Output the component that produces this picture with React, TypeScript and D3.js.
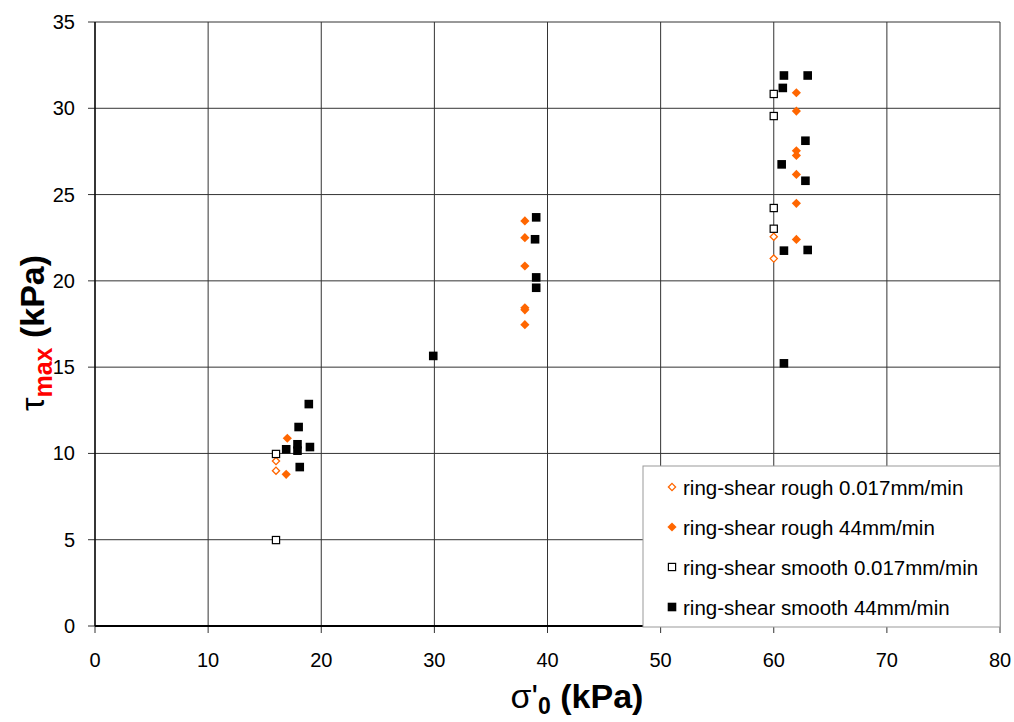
import React from "react";
import * as d3 from "d3";

const xTicks = [0, 10, 20, 30, 40, 50, 60, 70, 80];
const yTicks = [0, 5, 10, 15, 20, 25, 30, 35];

const roughSlowX = [16, 16, 60, 60];
const roughSlowY = [9.56, 9.0, 22.56, 21.29];

const roughFastX = [17, 16.9, 38, 38, 38, 38, 38, 38, 62, 62, 62, 62, 62, 62, 62];
const roughFastY = [10.88, 8.79, 23.47, 22.5, 20.86, 18.44, 18.32, 17.46, 30.9, 29.84, 27.54, 27.27, 26.17, 24.49, 22.4];

const smoothSlowX = [16, 16, 60, 60, 60, 60];
const smoothSlowY = [9.97, 4.98, 30.83, 29.55, 24.22, 23.02];

const smoothFastX = [18.9, 18, 17.9, 16.9, 17.9, 19, 18.1, 29.9, 39, 38.9, 39, 39, 60.9, 63, 60.8, 62.8, 60.7, 62.8, 60.9, 63, 60.9];
const smoothFastY = [12.86, 11.53, 10.53, 10.24, 10.16, 10.37, 9.21, 15.65, 23.68, 22.41, 20.2, 19.6, 31.9, 31.9, 31.18, 28.12, 26.75, 25.8, 21.75, 21.79, 15.22];

const legendLabels = [
  "ring-shear rough 0.017mm/min",
  "ring-shear rough 44mm/min",
  "ring-shear smooth 0.017mm/min",
  "ring-shear smooth 44mm/min",
];

const ORANGE = "#FF6600";
const FONT = "'Liberation Sans', Arial, sans-serif";

function Marker({ kind, x, y }: { kind: number; x: number; y: number }) {
  if (kind === 0) {
    const r = 3.6;
    return <path d={`M${x},${y - r}L${x + r},${y}L${x},${y + r}L${x - r},${y}Z`} fill="white" stroke={ORANGE} strokeWidth={1.3} />;
  }
  if (kind === 1) {
    const r = 4.6;
    return <path d={`M${x},${y - r}L${x + r},${y}L${x},${y + r}L${x - r},${y}Z`} fill={ORANGE} stroke="none" />;
  }
  if (kind === 2) {
    return <rect x={x - 3.6} y={y - 3.6} width={7.2} height={7.2} fill="white" stroke="#000" strokeWidth={1.2} />;
  }
  return <rect x={x - 4.3} y={y - 4.3} width={8.6} height={8.6} fill="#000" />;
}

export default function App() {
  const W = 1014, H = 722;
  const left = 95, right = 1000, top = 22, bottom = 626;
  const x = d3.scaleLinear().domain([0, 80]).range([left, right]);
  const y = d3.scaleLinear().domain([0, 35]).range([bottom, top]);

  const series = [
    { xs: roughSlowX, ys: roughSlowY },
    { xs: roughFastX, ys: roughFastY },
    { xs: smoothSlowX, ys: smoothSlowY },
    { xs: smoothFastX, ys: smoothFastY },
  ];

  return (
    <svg width={W} height={H} style={{ position: "absolute", left: 0, top: 0, background: "white" }} fontFamily={FONT}>
      <rect width={W} height={H} fill="white" />
      {xTicks.map((t) => (
        <g key={"gx" + t}>
          <line x1={x(t)} x2={x(t)} y1={top} y2={bottom + 7} stroke="#333" strokeWidth={1} />
          <text x={x(t)} y={bottom + 41} textAnchor="middle" fontSize={20} fill="#000">{t}</text>
        </g>
      ))}
      {yTicks.map((t) => (
        <g key={"gy" + t}>
          <line x1={left - 7} x2={right} y1={y(t)} y2={y(t)} stroke="#333" strokeWidth={1} />
          <text x={left - 20} y={y(t) + 7} textAnchor="end" fontSize={20} fill="#000">{t}</text>
        </g>
      ))}
      <line x1={left} x2={left} y1={top} y2={bottom} stroke="#000" strokeWidth={1.3} />
      <line x1={left} x2={right} y1={bottom} y2={bottom} stroke="#000" strokeWidth={2} />

      {series.map((s, k) => (
        <g key={"s" + k}>
          {s.xs.map((v, i) => (
            <Marker key={i} kind={k} x={x(v)} y={y(s.ys[i])} />
          ))}
        </g>
      ))}

      <g>
        <rect x={643} y={466} width={357} height={161} fill="white" stroke="#999" strokeWidth={1} />
        {legendLabels.map((l, i) => (
          <g key={l}>
            <Marker kind={i} x={672} y={487 + i * 40} />
            <text x={683} y={487 + i * 40 + 7.5} fontSize={20.5} fill="#000">{l}</text>
          </g>
        ))}
      </g>

      <text x={577} y={708} textAnchor="middle" fontSize={34} fontWeight="bold" fill="#000">
        <tspan fontWeight="normal">σ'</tspan>
        <tspan dy={6} fontSize={23}>0</tspan>
        <tspan dy={-6}> (kPa)</tspan>
      </text>

      <text transform={`translate(44, 333) rotate(-90)`} textAnchor="middle" fontSize={34} fontWeight="bold" fill="#000">
        <tspan fontWeight="normal">τ</tspan>
        <tspan dy={8} fontSize={25} fill="#ff0000">max</tspan>
        <tspan dy={-8}> (kPa)</tspan>
      </text>
    </svg>
  );
}
